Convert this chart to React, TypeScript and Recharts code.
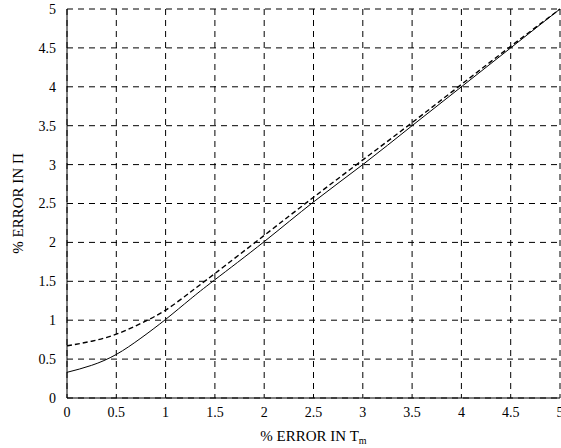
import { CartesianGrid, Line, LineChart, XAxis, YAxis } from "recharts";

const errTm = [0, 0.25, 0.5, 0.75, 1, 1.25, 1.5, 2, 2.5, 3, 3.5, 4, 4.5, 5];
const errSolid = [0.33, 0.42, 0.56, 0.77, 1.01, 1.27, 1.52, 2.01, 2.52, 3.0, 3.5, 4.0, 4.5, 5.0];
const errDashed = [0.67, 0.73, 0.82, 0.96, 1.13, 1.36, 1.6, 2.09, 2.58, 3.06, 3.54, 4.03, 4.52, 5.0];
const ticks = [0, 0.5, 1, 1.5, 2, 2.5, 3, 3.5, 4, 4.5, 5];

const data = errTm.map((x, i) => ({ x, solid: errSolid[i], dashed: errDashed[i] }));

const font = "Liberation Serif, DejaVu Serif, serif";

export default function App() {
  return (
    <div style={{ position: "absolute", left: 0, top: 0, background: "#fff", fontFamily: font }}>
      <LineChart
        width={561}
        height={448}
        data={data}
        margin={{ top: 9, right: 1, bottom: 22, left: 0 }}
        style={{ fontFamily: font }}
      >
        <CartesianGrid stroke="#000" strokeDasharray="6 5" vertical horizontal />
        <XAxis
          dataKey="x"
          type="number"
          domain={[0, 5]}
          ticks={ticks}
          interval={0}
          tickLine={false}
          axisLine={{ stroke: "#000" }}
          tick={{ fill: "#000", fontSize: 14, fontFamily: font }}
          tickMargin={3}
          height={28}
          label={{
            content: ({ viewBox }: any) => (
              <text
                x={viewBox.x + viewBox.width / 2}
                y={441}
                textAnchor="middle"
                fontFamily={font}
                fontSize={15}
                fill="#000"
              >
                % ERROR IN T
                <tspan fontSize={10} dy={3}>m</tspan>
              </text>
            ),
          }}
        />
        <YAxis
          type="number"
          domain={[0, 5]}
          ticks={ticks}
          interval={0}
          width={67}
          tickLine={false}
          axisLine={{ stroke: "#000" }}
          tick={{ fill: "#000", fontSize: 14, fontFamily: font }}
          tickMargin={5}
          label={{
            content: ({ viewBox }: any) => {
              const cx = 18;
              const cy = viewBox.y + viewBox.height / 2;
              return (
                <text
                  x={cx}
                  y={cy}
                  transform={`rotate(-90 ${cx} ${cy})`}
                  textAnchor="middle"
                  dominantBaseline="central"
                  fontFamily={font}
                  fontSize={15}
                  fill="#000"
                >
                  % ERROR IN Π
                </text>
              );
            },
          }}
        />
        <Line
          type="natural"
          dataKey="solid"
          stroke="#000"
          strokeWidth={1}
          dot={false}
          isAnimationActive={false}
        />
        <Line
          type="natural"
          dataKey="dashed"
          stroke="#000"
          strokeWidth={1.4}
          strokeDasharray="5 3"
          dot={false}
          isAnimationActive={false}
        />
      </LineChart>
    </div>
  );
}
